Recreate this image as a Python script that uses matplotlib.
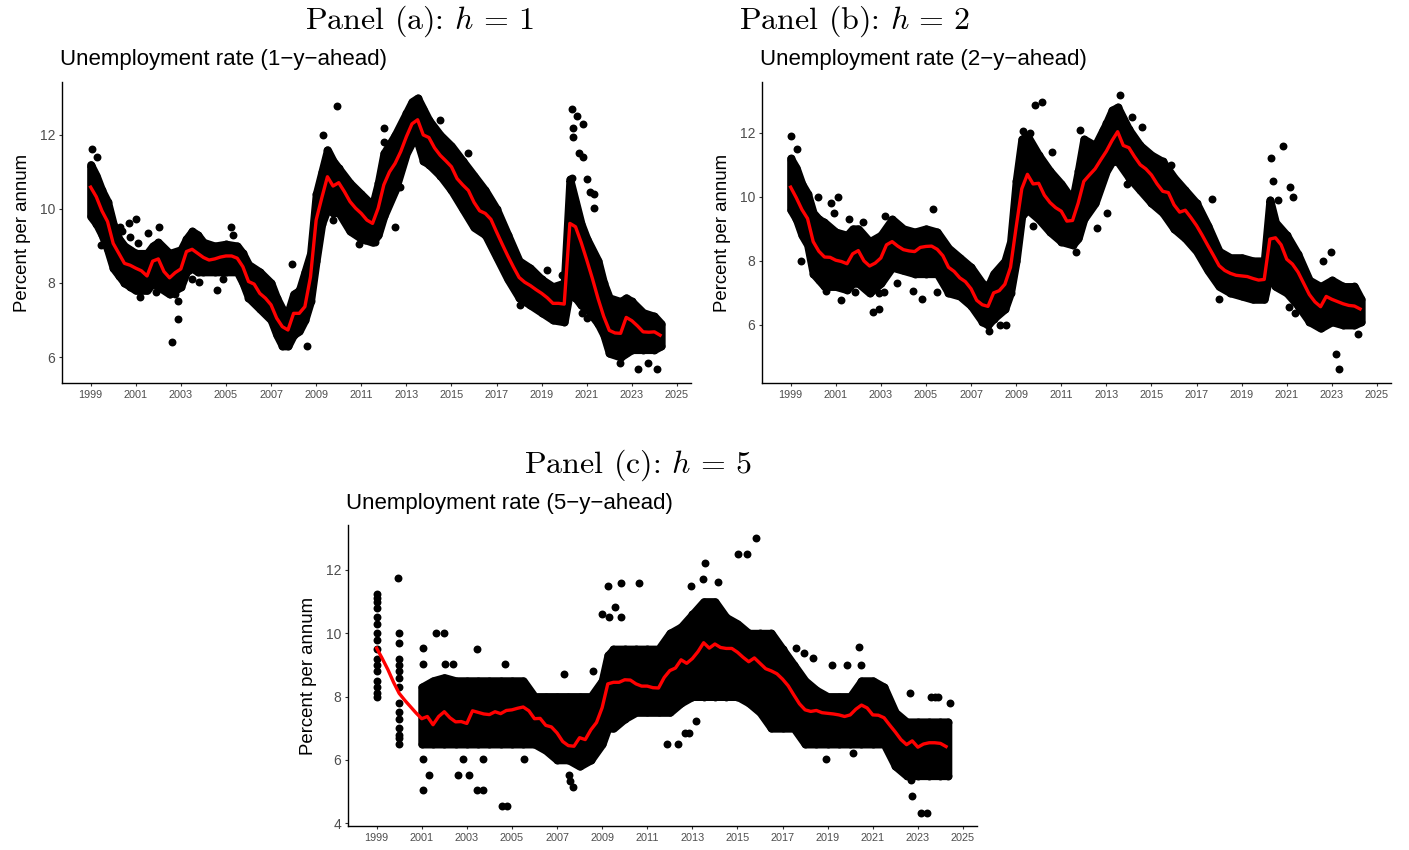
import numpy as np
import matplotlib
matplotlib.use("Agg")
import matplotlib.pyplot as plt

plt.rcParams['mathtext.fontset'] = 'cm'
plt.rcParams['font.family'] = ['Liberation Sans', 'DejaVu Sans']

# ---------------- data ----------------
quarters = np.arange(1999.0, 2024.26, 0.25)  # survey quarters 1999Q1 .. 2024Q2

mean_h1 = [10.59, 10.33, 9.95, 9.66,
           9.07, 8.80, 8.53, 8.48,
           8.40, 8.33, 8.19, 8.59,
           8.65, 8.31, 8.14, 8.28,
           8.38, 8.85, 8.91, 8.80,
           8.69, 8.62, 8.65, 8.70,
           8.73, 8.73, 8.67, 8.44,
           8.04, 7.97, 7.72, 7.59,
           7.41, 7.05, 6.82, 6.73,
           7.18, 7.18, 7.36, 8.17,
           9.70, 10.30, 10.87, 10.62,
           10.71, 10.47, 10.20, 10.02,
           9.88, 9.70, 9.61, 10.02,
           10.65, 11.00, 11.23, 11.55,
           11.95, 12.30, 12.41, 12.00,
           11.93, 11.65, 11.45, 11.30,
           11.14, 10.82, 10.65, 10.50,
           10.18, 9.95, 9.88, 9.72,
           9.38, 9.05, 8.73, 8.43,
           8.15, 8.02, 7.93, 7.82,
           7.72, 7.60, 7.45, 7.45,
           7.43, 9.61, 9.52, 9.10,
           8.62, 8.12, 7.58, 7.10,
           6.72, 6.65, 6.64, 7.07,
           6.98, 6.84, 6.68, 6.67,
           6.68, 6.59]

mean_h2 = [10.30, 9.97, 9.60, 9.32,
           8.60, 8.30, 8.12, 8.11,
           8.02, 7.98, 7.91, 8.22,
           8.32, 8.00, 7.84, 7.93,
           8.09, 8.50, 8.60, 8.46,
           8.35, 8.31, 8.29, 8.42,
           8.45, 8.46, 8.36, 8.16,
           7.80, 7.67, 7.47, 7.35,
           7.13, 6.77, 6.63, 6.58,
           7.00, 7.07, 7.27, 7.80,
           9.05, 10.25, 10.70, 10.40,
           10.42, 10.05, 9.82, 9.66,
           9.55, 9.24, 9.26, 9.80,
           10.48, 10.68, 10.87, 11.15,
           11.42, 11.75, 12.03, 11.60,
           11.53, 11.25, 11.00, 10.87,
           10.68, 10.40, 10.17, 10.13,
           9.75, 9.52, 9.58, 9.35,
           9.10, 8.80, 8.48, 8.17,
           7.85, 7.70, 7.61, 7.55,
           7.53, 7.51, 7.45, 7.40,
           7.42, 8.68, 8.72, 8.50,
           8.05, 7.90, 7.65, 7.30,
           6.95, 6.72, 6.57, 6.89,
           6.80, 6.73, 6.66, 6.61,
           6.59, 6.50]

mean_h5 = [9.53, 9.20, 8.85, 8.45,
           8.10, 7.88, 7.68, 7.48,
           7.30, 7.37, 7.11, 7.37,
           7.52, 7.33, 7.20, 7.21,
           7.15, 7.55, 7.50, 7.45,
           7.43, 7.52, 7.46, 7.56,
           7.58, 7.63, 7.67, 7.55,
           7.30, 7.31, 7.09, 7.04,
           6.85, 6.58, 6.45, 6.43,
           6.70, 6.64, 6.95, 7.18,
           7.65, 8.40, 8.45, 8.45,
           8.53, 8.52, 8.40, 8.33,
           8.33, 8.28, 8.27, 8.60,
           8.82, 8.90, 9.16, 9.05,
           9.20, 9.42, 9.70, 9.53,
           9.66, 9.55, 9.52, 9.52,
           9.40, 9.24, 9.10, 9.22,
           9.05, 8.88, 8.81, 8.72,
           8.55, 8.34, 8.05, 7.77,
           7.58, 7.53, 7.56, 7.49,
           7.47, 7.45, 7.42, 7.37,
           7.42, 7.60, 7.73, 7.64,
           7.42, 7.41, 7.33, 7.10,
           6.88, 6.64, 6.48, 6.60,
           6.40, 6.50, 6.54, 6.54,
           6.52, 6.42]

# dense cloud of individual forecasts: upper / lower envelope
env_x_h1 = [1999.0, 1999.25, 1999.5, 1999.75, 2000.0, 2000.25, 2000.5, 2000.75, 2001.0, 2001.5,
            2001.75, 2002.0, 2002.5, 2003.0, 2003.25, 2003.5, 2003.75, 2004.0, 2004.5, 2005.0,
            2005.5, 2005.75, 2006.0, 2006.5, 2007.0, 2007.25, 2007.5, 2007.75, 2008.0, 2008.25,
            2008.5, 2008.75, 2009.0, 2009.25, 2009.5, 2009.75, 2010.0, 2010.5, 2011.0, 2011.5,
            2011.75, 2012.0, 2012.5, 2013.0, 2013.25, 2013.5, 2013.75, 2014.0, 2014.5, 2015.0,
            2015.5, 2016.0, 2016.5, 2017.0, 2017.5, 2018.0, 2018.5, 2019.0, 2019.5, 2020.0,
            2020.25, 2020.5, 2020.75, 2021.0, 2021.5, 2021.75, 2022.0, 2022.5, 2022.75, 2023.0,
            2023.5, 2024.0, 2024.3]
env_hi_h1 = [11.2, 10.9, 10.5, 10.2, 9.6, 9.2, 9.0, 8.9, 8.8, 8.8,
             9.0, 9.1, 8.8, 8.9, 9.2, 9.4, 9.3, 9.1, 9.0, 9.05,
             9.0, 8.8, 8.5, 8.3, 8.0, 7.6, 7.3, 7.2, 7.7, 7.8,
             8.3, 8.8, 10.4, 11.0, 11.6, 11.3, 11.1, 10.7, 10.4, 10.1,
             10.7, 11.5, 12.0, 12.6, 12.9, 13.0, 12.7, 12.4, 12.0, 11.7,
             11.3, 10.9, 10.5, 10.0, 9.3, 8.6, 8.4, 8.1, 7.9, 8.0,
             10.8, 10.2, 9.6, 9.2, 8.6, 8.0, 7.6, 7.5, 7.6, 7.5,
             7.2, 7.1, 6.9]
env_lo_h1 = [9.8, 9.6, 9.3, 8.9, 8.4, 8.2, 8.0, 7.9, 7.8, 7.8,
             8.0, 7.9, 7.7, 7.9, 8.3, 8.4, 8.3, 8.3, 8.3, 8.3,
             8.3, 8.0, 7.6, 7.3, 7.0, 6.6, 6.3, 6.3, 6.6, 6.7,
             7.0, 7.5, 8.6, 9.6, 10.0, 9.9, 9.9, 9.4, 9.2, 9.1,
             9.3, 9.8, 10.5, 11.5, 11.8, 11.8, 11.3, 11.2, 10.9, 10.5,
             10.0, 9.5, 9.3, 8.7, 8.1, 7.6, 7.4, 7.2, 7.0, 6.95,
             7.8, 7.6, 7.4, 7.3, 6.9, 6.6, 6.1, 6.0, 6.1, 6.2,
             6.2, 6.2, 6.3]
out_x_h1 = [1999.04, 1999.27, 1999.44, 2000.3, 2000.7, 2001.0, 2002.04, 2001.1, 2000.74, 2005.22,
            2005.33, 2003.48, 2003.82, 2004.88, 2004.59, 2002.89, 2002.89, 2002.59, 2007.94, 2008.58,
            2009.32, 2009.94, 2009.73, 2011.6, 2011.17, 2012.0, 2012.0, 2012.49, 2014.49, 2015.75,
            2020.33, 2020.58, 2020.82, 2020.41, 2020.38, 2020.66, 2020.85, 2020.33, 2021.0, 2021.3,
            2021.14, 2021.3, 2019.22, 2018.04, 2019.89, 2021.03, 2021.37, 2022.46, 2023.27, 2023.72,
            2024.1, 2020.8, 2001.19, 2001.9, 2002.75, 2001.55, 2000.4, 2010.9, 2012.3, 2012.7]
out_y_h1 = [11.61, 11.40, 9.03, 9.52, 9.61, 9.72, 9.52, 9.07, 9.25, 9.52,
            9.30, 8.10, 8.02, 8.10, 7.81, 7.50, 7.02, 6.40, 8.50, 6.31,
            12.0, 12.79, 9.70, 9.10, 9.16, 12.2, 11.82, 9.52, 12.40, 11.50,
            12.69, 12.51, 12.30, 12.18, 11.95, 11.52, 11.40, 10.83, 10.80, 10.40,
            10.47, 10.02, 8.35, 7.41, 8.22, 7.05, 7.14, 5.83, 5.67, 5.83,
            5.67, 7.20, 7.63, 7.75, 7.70, 9.35, 9.40, 9.05, 10.30, 10.60]

env_x_h2 = [1999.0, 1999.25, 1999.5, 1999.75, 2000.0, 2000.25, 2000.5, 2001.0, 2001.5, 2001.75,
            2002.0, 2002.5, 2003.0, 2003.5, 2004.0, 2004.5, 2005.0, 2005.5, 2006.0, 2006.5,
            2007.0, 2007.5, 2007.75, 2008.0, 2008.5, 2008.75, 2009.0, 2009.25, 2009.5, 2010.0,
            2010.5, 2011.0, 2011.5, 2011.75, 2012.0, 2012.5, 2013.0, 2013.25, 2013.5, 2014.0,
            2014.5, 2015.0, 2015.5, 2016.0, 2016.5, 2017.0, 2017.5, 2018.0, 2018.5, 2019.0,
            2019.5, 2020.0, 2020.25, 2020.5, 2021.0, 2021.5, 2022.0, 2022.5, 2023.0, 2023.5,
            2024.0, 2024.3]
env_hi_h2 = [11.2, 10.9, 10.4, 10.1, 9.5, 9.3, 9.2, 8.9, 8.8, 9.0,
             9.0, 8.6, 8.8, 9.3, 9.0, 8.9, 9.0, 8.9, 8.4, 8.1,
             7.8, 7.3, 7.2, 7.6, 8.0, 8.6, 10.5, 11.8, 11.9, 11.3,
             10.8, 10.4, 9.9, 10.8, 11.8, 11.6, 12.3, 12.7, 12.8, 12.1,
             11.6, 11.3, 11.1, 10.6, 10.2, 9.8, 9.1, 8.3, 8.1, 8.1,
             8.0, 8.0, 9.9, 9.2, 8.8, 8.2, 7.4, 7.2, 7.4, 7.2,
             7.2, 6.8]
env_lo_h2 = [9.6, 9.3, 8.8, 8.5, 7.6, 7.4, 7.2, 7.2, 7.1, 7.3,
             7.3, 7.0, 7.3, 7.8, 7.7, 7.6, 7.6, 7.6, 7.0, 6.9,
             6.6, 6.1, 6.0, 6.2, 6.5, 7.0, 8.0, 9.4, 9.6, 9.3,
             8.9, 8.6, 8.5, 8.7, 9.3, 9.8, 10.8, 11.1, 11.1, 10.6,
             10.2, 9.8, 9.5, 9.0, 8.7, 8.3, 7.7, 7.2, 7.0, 6.9,
             6.8, 6.8, 7.6, 7.2, 7.0, 6.6, 6.1, 5.9, 6.1, 6.0,
             6.0, 6.1]
out_x_h2 = [1999.0, 1999.3, 1999.44, 2000.23, 2001.11, 2000.92, 2000.77, 2000.57, 2001.23, 2001.85,
            2002.64, 2002.93, 2003.18, 2005.3, 2003.73, 2004.44, 2004.81, 2005.47, 2003.14, 2007.8,
            2008.28, 2008.53, 2009.83, 2010.13, 2009.32, 2009.73, 2011.65, 2011.83, 2013.6, 2012.86,
            2012.57, 2014.57, 2014.13, 2013.01, 2015.86, 2017.67, 2018.01, 2020.84, 2020.28, 2021.14,
            2021.29, 2021.11, 2021.36, 2022.95, 2022.6, 2023.2, 2023.3, 2024.17, 2001.6, 2002.2,
            2002.9, 2000.1, 2009.6, 2010.6, 2013.9, 2020.4, 2020.6]
out_y_h2 = [11.90, 11.49, 8.01, 10.00, 9.98, 9.49, 9.82, 7.05, 6.77, 7.02,
            6.42, 6.50, 9.40, 9.61, 7.31, 7.05, 6.81, 7.02, 7.02, 5.80,
            6.00, 6.00, 12.86, 12.97, 12.06, 9.09, 8.29, 12.08, 13.17, 12.08,
            9.02, 12.19, 12.50, 9.49, 10.99, 9.92, 6.81, 11.58, 11.20, 10.30,
            10.00, 6.55, 6.37, 8.29, 7.98, 5.09, 4.63, 5.73, 9.30, 9.20,
            7.00, 9.40, 12.00, 11.40, 10.40, 10.50, 9.90]

env_x_h5 = [2001.0, 2001.5, 2002.0, 2002.5, 2003.0, 2003.5, 2004.0, 2004.5, 2005.0, 2005.5,
            2006.0, 2006.5, 2007.0, 2007.5, 2008.0, 2008.5, 2009.0, 2009.25, 2009.5, 2010.0,
            2010.5, 2011.0, 2011.5, 2012.0, 2012.5, 2013.0, 2013.5, 2014.0, 2014.5, 2015.0,
            2015.5, 2016.0, 2016.5, 2017.0, 2017.5, 2018.0, 2018.5, 2019.0, 2019.5, 2020.0,
            2020.5, 2021.0, 2021.5, 2022.0, 2022.5, 2023.0, 2023.5, 2024.0, 2024.33]
env_hi_h5 = [8.3, 8.5, 8.6, 8.5, 8.5, 8.5, 8.5, 8.5, 8.5, 8.5,
             8.0, 8.0, 8.0, 8.0, 8.0, 8.0, 8.5, 9.3, 9.5, 9.5,
             9.5, 9.5, 9.5, 10.0, 10.2, 10.6, 11.0, 11.0, 10.5, 10.3,
             10.0, 10.0, 10.0, 9.5, 9.0, 8.5, 8.2, 8.0, 8.0, 8.0,
             8.5, 8.5, 8.3, 7.5, 7.2, 7.2, 7.2, 7.2, 7.2]
env_lo_h5 = [6.5, 6.5, 6.5, 6.5, 6.5, 6.5, 6.5, 6.5, 6.5, 6.5,
             6.5, 6.3, 6.0, 6.0, 5.8, 6.0, 6.5, 7.0, 7.0, 7.3,
             7.5, 7.5, 7.5, 7.5, 7.8, 8.0, 8.0, 8.0, 8.0, 8.0,
             7.8, 7.5, 7.0, 7.0, 7.0, 6.5, 6.5, 6.5, 6.5, 6.5,
             6.5, 6.5, 6.5, 5.8, 5.5, 5.5, 5.5, 5.5, 5.5]
# early annual survey rounds (columns) and scattered forecasts
out_x_h5 = [1999.0] * 16 + [2000.0] * 14 + [
            1999.93, 2001.07, 2001.07, 2001.63, 2002.0, 2002.05, 2002.37, 2003.43, 2004.7, 2001.07,
            2001.34, 2001.07, 2002.59, 2003.11, 2002.84, 2003.7, 2003.43, 2003.7, 2004.54, 2004.76,
            2005.55, 2007.32, 2007.51, 2007.57, 2007.69, 2008.61, 2009.24, 2009.83, 2010.62, 2008.99,
            2009.32, 2009.58, 2009.83, 2015.82, 2015.04, 2015.41, 2013.56, 2012.93, 2013.45, 2014.15,
            2012.38, 2011.86, 2012.67, 2012.86, 2013.16, 2020.40, 2020.46, 2017.6, 2017.95, 2018.37,
            2019.2, 2019.84, 2018.91, 2020.11, 2022.69, 2022.73, 2023.12, 2023.42, 2024.42, 2022.65,
            2023.6, 2023.75, 2023.9]
out_y_h5 = [8.0, 8.1, 8.3, 8.5, 8.8, 9.0, 9.2, 9.5, 9.8, 10.0, 10.3, 10.5, 10.8, 11.0, 11.1, 11.25] + \
           [10.0, 9.7, 9.2, 9.0, 8.8, 8.6, 8.3, 7.5, 7.3, 7.0, 6.8, 6.7, 6.5, 7.8] + [
            11.74, 9.53, 9.03, 10.0, 10.0, 9.03, 9.03, 9.51, 9.03, 6.03,
            5.53, 5.04, 5.53, 5.53, 6.03, 6.03, 5.04, 5.04, 4.53, 4.53,
            6.03, 8.72, 5.53, 5.32, 5.13, 8.82, 11.5, 11.58, 11.6, 10.61,
            10.51, 10.82, 10.51, 13.0, 12.49, 12.49, 12.21, 11.5, 11.7, 11.63,
            6.51, 6.51, 6.85, 6.85, 7.22, 9.58, 9.0, 9.53, 9.39, 9.21,
            9.0, 9.0, 6.03, 6.22, 5.35, 4.85, 4.32, 4.32, 7.81, 8.1,
            8.0, 8.0, 8.0]

years_ticks = list(range(1999, 2026, 2))

# ---------------- figure ----------------
W, H = 1409, 850
fig = plt.figure(figsize=(W / 100, H / 100), dpi=100)


def px_axes(left, top, width, height):
    return fig.add_axes([left / W, 1 - (top + height) / H, width / W, height / H])


def panel(ax, mean, ex, ehi, elo, ox, oy, ylim, yticks):
    dot = 5.7
    ax.fill_between(ex, elo, ehi, facecolor='black', edgecolor='black',
                    linewidth=dot, joinstyle='round', zorder=1)
    ax.scatter(ex, ehi, s=dot ** 2, color='black', linewidths=0, zorder=2)
    ax.scatter(ex, elo, s=dot ** 2, color='black', linewidths=0, zorder=2)
    ax.scatter(ox, oy, s=dot ** 2, color='black', linewidths=0, zorder=2)
    ax.plot(quarters, mean, color='red', lw=2.4, zorder=3, solid_joinstyle='round')
    ax.set_xlim(1997.73, 2025.6)
    ax.set_ylim(*ylim)
    ax.set_xticks(years_ticks)
    ax.set_xticklabels([str(y) for y in years_ticks])
    ax.set_yticks(yticks)
    ax.set_yticklabels([str(t) for t in yticks])
    for s in ('top', 'right'):
        ax.spines[s].set_visible(False)
    for s in ('left', 'bottom'):
        ax.spines[s].set_linewidth(1.0)
        ax.spines[s].set_color('black')
    ax.tick_params(axis='both', length=2.5, width=0.8, color='#333333', pad=2.5)
    ax.tick_params(axis='x', labelsize=7.8, labelcolor='#4D4D4D')
    ax.tick_params(axis='y', labelsize=10, labelcolor='#4D4D4D')
    ax.set_ylabel('Percent per annum', fontsize=13.4, labelpad=6)


axA = px_axes(62, 82, 628.5, 301.3)
panel(axA, mean_h1, env_x_h1, env_hi_h1, env_lo_h1, out_x_h1, out_y_h1, (5.29, 13.43), [6, 8, 10, 12])
axB = px_axes(762, 82, 628.5, 301.3)
panel(axB, mean_h2, env_x_h2, env_hi_h2, env_lo_h2, out_x_h2, out_y_h2, (4.18, 13.58), [6, 8, 10, 12])
axC = px_axes(348, 525, 628.5, 301)
panel(axC, mean_h5, env_x_h5, env_hi_h5, env_lo_h5, out_x_h5, out_y_h5, (3.91, 13.42), [4, 6, 8, 10, 12])

# subtitles
for x, y, s in [(60, 60, 'Unemployment rate (1\u2212y\u2212ahead)'),
                (760, 60, 'Unemployment rate (2\u2212y\u2212ahead)'),
                (346, 503, 'Unemployment rate (5\u2212y\u2212ahead)')]:
    fig.text(x / W, 1 - y / H, s, fontsize=16, ha='left', va='center', color='black')

# panel titles
for x, y, s in [(419, 21, r'Panel (a): $h\,=\,1$'),
                (855, 21, r'Panel (b): $h\,=\,2$'),
                (638, 465, r'Panel (c): $h\,=\,5$')]:
    fig.text(x / W, 1 - y / H, s, fontsize=23, ha='center', va='center',
             family='cmr10', color='black')

fig.savefig('out.png', dpi=100)
